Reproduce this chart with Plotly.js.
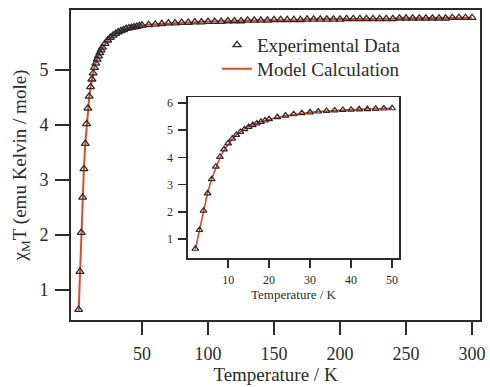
<!DOCTYPE html>
<html>
<head>
<meta charset="utf-8">
<script src="https://cdn.plot.ly/plotly-3.0.1.min.js"></script>
<style>html,body{margin:0;padding:0;background:#fff;}#chart{width:490px;height:387px;}</style>
</head>
<body>
<div id="chart"></div>
<script>
// Temperature (K) of measured points
const temperature = [2,3,4,5,6,7,8,9,10,11,12,13,14,15,16,17,18,19,20,
  22,24,26,28,30,32,34,36,38,40,42,44,46,48,50,
  55,60,65,70,75,80,85,90,95,100,105,110,115,120,125,130,135,140,145,150,
  155,160,165,170,175,180,185,190,195,200,205,210,215,220,225,230,235,240,245,250,
  255,260,265,270,275,280,285,290,295,300];
// Experimental chi_M T (emu K / mol)
const chiTExp = [0.64,1.33,2.04,2.68,3.20,3.66,4.02,4.30,4.52,4.69,4.83,4.94,5.04,5.12,5.19,5.25,5.31,5.36,5.41,
  5.48,5.54,5.59,5.63,5.66,5.69,5.71,5.73,5.75,5.76,5.77,5.78,5.79,5.80,5.81,
  5.82,5.83,5.84,5.85,5.85,5.86,5.86,5.87,5.87,5.88,5.88,5.88,5.89,5.89,5.89,5.90,5.90,5.90,5.90,5.91,
  5.91,5.91,5.91,5.91,5.92,5.92,5.92,5.92,5.92,5.92,5.93,5.93,5.93,5.93,5.93,5.93,5.93,5.93,5.94,5.94,
  5.94,5.94,5.94,5.94,5.94,5.94,5.95,5.95,5.95,5.95];
// Model calculation
const modelT = temperature;
const chiTModel = [0.62,1.35,2.06,2.70,3.22,3.64,3.99,4.27,4.50,4.68,4.83,4.95,5.05,5.13,5.20,5.26,5.31,5.36,5.40,
  5.47,5.53,5.58,5.62,5.66,5.69,5.71,5.73,5.75,5.76,5.77,5.78,5.79,5.80,5.81,
  5.82,5.83,5.84,5.85,5.85,5.86,5.86,5.87,5.87,5.88,5.88,5.88,5.89,5.89,5.89,5.90,5.90,5.90,5.90,5.91,
  5.91,5.91,5.91,5.91,5.92,5.92,5.92,5.92,5.92,5.92,5.93,5.93,5.93,5.93,5.93,5.93,5.93,5.93,5.94,5.94,
  5.94,5.94,5.94,5.94,5.94,5.94,5.95,5.95,5.95,5.95];
const mainXTicks = [50,100,150,200,250,300];
const mainYTicks = [1,2,3,4,5];
const insetXTicks = [10,20,30,40,50];
const insetYTicks = [1,2,3,4,5,6];
const insetMaxT = 50;

const serif = 'Liberation Serif, Times New Roman, serif';
const ink = '#2b2b2b';
const red = '#e2482e';

const insetIdx = temperature.map((t,i)=>i).filter(i=>temperature[i] <= insetMaxT);
const insetModelIdx = modelT.map((t,i)=>i).filter(i=>modelT[i] <= insetMaxT);

const traces = [
  {x: modelT, y: chiTModel, type:'scatter', mode:'lines', name:'Model Calculation',
   line:{color:red, width:2}, legend:'legend2', xaxis:'x', yaxis:'y'},
  {x: temperature, y: chiTExp, type:'scatter', mode:'markers', name:'Experimental Data',
   marker:{symbol:'triangle-up-open', size:7, color:ink, line:{width:1.3, color:ink}},
   legend:'legend', xaxis:'x', yaxis:'y'},
  {x: insetModelIdx.map(i=>modelT[i]), y: insetModelIdx.map(i=>chiTModel[i]), type:'scatter', mode:'lines',
   line:{color:red, width:1.6}, showlegend:false, xaxis:'x2', yaxis:'y2'},
  {x: insetIdx.map(i=>temperature[i]), y: insetIdx.map(i=>chiTExp[i]), type:'scatter', mode:'markers',
   marker:{symbol:'triangle-up-open', size:6, color:ink, line:{width:1.2, color:ink}},
   showlegend:false, xaxis:'x2', yaxis:'y2'}
];

const axBase = {showgrid:false, zeroline:false, showline:true, linecolor:ink, mirror:true,
  ticks:'outside', tickcolor:ink};

const layout = {
  width:490, height:387,
  margin:{l:71, r:10, t:10, b:67},
  paper_bgcolor:'#ffffff', plot_bgcolor:'#ffffff',
  font:{family:serif, color:ink},
  xaxis: Object.assign({}, axBase, {
    range:[-3.8,306], tickvals:mainXTicks, linewidth:2, tickwidth:2, ticklen:13,
    ticklabelstandoff:3,
    tickfont:{family:serif, size:18, color:ink},
    title:{text:'Temperature / K', font:{family:serif, size:19, color:ink}, standoff:4}
  }),
  yaxis: Object.assign({}, axBase, {
    range:[0.45,6.09], tickvals:mainYTicks, linewidth:2, tickwidth:2, ticklen:14,
    ticklabelstandoff:3,
    tickfont:{family:serif, size:18, color:ink},
    title:{text:'χ<sub>M</sub>T (emu Kelvin / mole)', font:{family:serif, size:19, color:ink}, standoff:8}
  }),
  xaxis2: Object.assign({}, axBase, {
    domain:[0.286,0.802], anchor:'y2', range:[0.2,51.7], tickvals:insetXTicks,
    linewidth:1.6, tickwidth:1.6, ticklen:8, ticklabelstandoff:2,
    tickfont:{family:serif, size:12, color:ink},
    title:{text:'Temperature / K', font:{family:serif, size:13, color:ink}, standoff:2}
  }),
  yaxis2: Object.assign({}, axBase, {
    domain:[0.2,0.719], anchor:'x2', range:[0.3,6.22], tickvals:insetYTicks,
    linewidth:1.6, tickwidth:1.6, ticklen:8, ticklabelstandoff:3,
    tickfont:{family:serif, size:12, color:ink}
  }),
  legend:{x:0.357, xanchor:'left', y:0.887, yanchor:'middle', bgcolor:'rgba(0,0,0,0)',
    borderwidth:0, font:{family:serif, size:19, color:ink}},
  legend2:{x:0.357, xanchor:'left', y:0.81, yanchor:'middle', bgcolor:'rgba(0,0,0,0)',
    borderwidth:0, font:{family:serif, size:19, color:ink}},
  showlegend:true
};

Plotly.newPlot('chart', traces, layout, {displayModeBar:false, staticPlot:true});
</script>
</body>
</html>
